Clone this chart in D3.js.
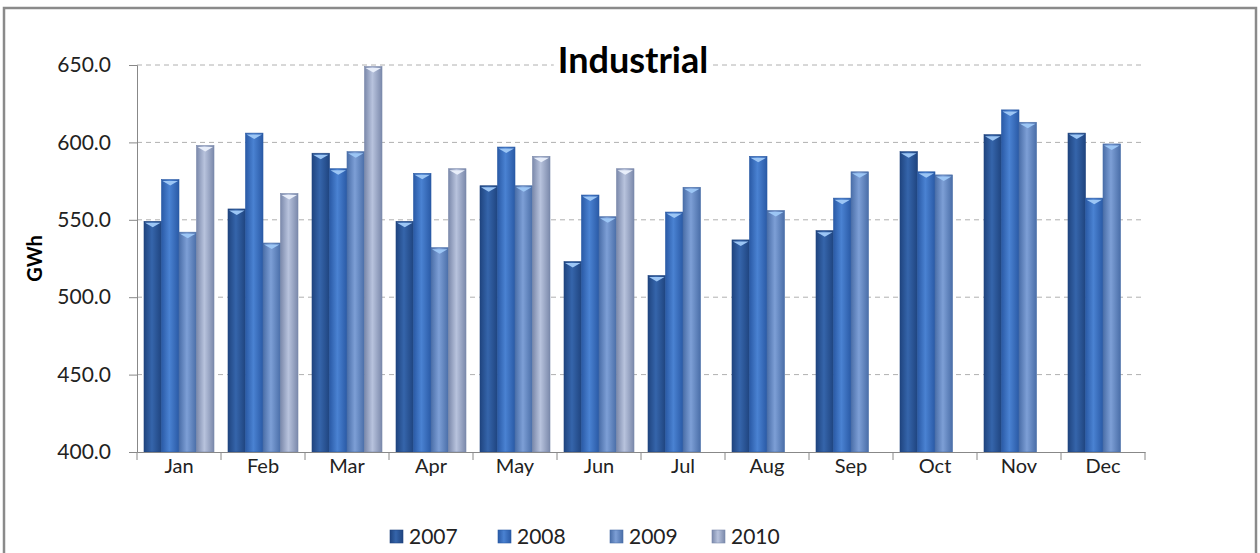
<!DOCTYPE html>
<html>
<head>
<meta charset="utf-8">
<script src="https://cdn.jsdelivr.net/npm/d3@7"></script>
<style>
  body { margin: 0; background: #fff; }
  svg { display: block; }
  svg text { font-family: Lato, "Open Sans", sans-serif; }
</style>
</head>
<body>
<svg id="chart"></svg>
<script>
const months = ["Jan", "Feb", "Mar", "Apr", "May", "Jun", "Jul", "Aug", "Sep", "Oct", "Nov", "Dec"];
const years = ["2007", "2008", "2009", "2010"];
const v2007 = [549, 557, 593, 549, 572, 523, 514, 537, 543, 594, 605, 606];
const v2008 = [576, 606, 583, 580, 597, 566, 555, 591, 564, 581, 621, 564];
const v2009 = [542, 535, 594, 532, 572, 552, 571, 556, 581, 579, 613, 599];
const v2010 = [598, 567, 649, 583, 591, 583, null, null, null, null, null, null];
const yTicks = [400, 450, 500, 550, 600, 650];

const series = [v2007, v2008, v2009, v2010];
const colors = [
  { dark: "#1f447f", mid: "#3565ab" },
  { dark: "#2a5aa6", mid: "#4a82d2" },
  { dark: "#4a6ea8", mid: "#7d9fd6" },
  { dark: "#7b89ab", mid: "#b8c3dd" }
];

const W = 1260, H = 553;
const M = { left: 137, right: 115, top: 65, bottom: 101 };

const svg = d3.select("#chart").attr("width", W).attr("height", H);

// outer frame
svg.append("rect")
  .attr("x", 4).attr("y", 8).attr("width", 1252).attr("height", 560)
  .attr("fill", "#fff").attr("stroke", "#8a8a8a").attr("stroke-width", 2.5);

const defs = svg.append("defs");
colors.forEach((c, i) => {
  const g = defs.append("linearGradient").attr("id", "grad" + i)
    .attr("x1", "0%").attr("x2", "100%").attr("y1", "0%").attr("y2", "0%");
  g.append("stop").attr("offset", "0%").attr("stop-color", c.dark);
  g.append("stop").attr("offset", "45%").attr("stop-color", c.mid);
  g.append("stop").attr("offset", "100%").attr("stop-color", c.dark);
});

/* Scales */
const x = d3.scaleBand().domain(months).range([M.left, W - M.right]);
const inner = d3.scaleBand().domain(years)
  .range([0, x.bandwidth()]).paddingOuter(0.4).paddingInner(0);
const y = d3.scaleLinear().domain([400, 650]).range([H - M.bottom, M.top]);

/* Grid */
svg.append("g").selectAll("line")
  .data(yTicks.slice(1)).enter()
  .append("line")
  .attr("x1", M.left).attr("x2", W - M.right)
  .attr("y1", d => y(d)).attr("y2", d => y(d))
  .attr("stroke", "#b0b0b0").attr("stroke-width", 1)
  .attr("stroke-dasharray", "5,4");

/* Bars */
const groups = svg.append("g").selectAll("g")
  .data(months).enter()
  .append("g")
  .attr("transform", d => `translate(${x(d)},0)`);

groups.each(function(m, mi) {
  const g = d3.select(this);
  series.forEach((s, si) => {
    const v = s[mi];
    if (v == null) return;
    const bx = inner(years[si]);
    const bw = inner.bandwidth();
    g.append("rect")
      .attr("x", bx).attr("y", y(v))
      .attr("width", bw).attr("height", y(400) - y(v))
      .attr("fill", `url(#grad${si})`)
      .attr("stroke", colors[si].dark).attr("stroke-width", 0.6);
    // bevel chevron on top
    g.append("path")
      .attr("d", `M${bx + 1},${y(v) + 1.5} L${bx + bw - 1},${y(v) + 1.5} L${bx + bw / 2},${y(v) + 6} Z`)
      .attr("fill", si === 3 ? "#e8eefa" : "#9cc6f5");
  });
});

/* Axes */
const xAxis = d3.axisBottom(x).tickSize(0).tickPadding(7);
const xg = svg.append("g")
  .attr("transform", `translate(0,${y(400)})`)
  .call(xAxis);
xg.attr("font-family", null);
xg.select(".domain").attr("stroke", "#888");
xg.selectAll("text").attr("font-size", 20).attr("fill", "#222");
// category boundary ticks
xg.append("g").selectAll("line")
  .data(d3.range(months.length + 1)).enter()
  .append("line")
  .attr("x1", i => M.left + i * x.step()).attr("x2", i => M.left + i * x.step())
  .attr("y1", 0).attr("y2", 8)
  .attr("stroke", "#888");

const yAxis = d3.axisLeft(y).tickValues(yTicks).tickFormat(d3.format(".1f"))
  .tickSize(8).tickPadding(18);
const yg = svg.append("g")
  .attr("transform", `translate(${M.left},0)`)
  .call(yAxis);
yg.attr("font-family", null);
yg.select(".domain").attr("stroke", "#888");
yg.selectAll(".tick line").attr("stroke", "#888");
yg.selectAll("text").attr("font-size", 21).attr("fill", "#222");

/* Y label */
svg.append("text")
  .attr("transform", `translate(42,${(y(400) + y(650)) / 2}) rotate(-90)`)
  .attr("text-anchor", "middle")
  .attr("font-size", 20).attr("font-weight", "bold")
  .text("GWh");

/* Title */
const titleBg = svg.append("rect").attr("fill", "#fff");
const title = svg.append("text")
  .attr("x", 633).attr("y", 73)
  .attr("text-anchor", "middle")
  .attr("font-size", 36).attr("font-weight", "bold")
  .text("Industrial");
const tb = title.node().getBBox();
titleBg
  .attr("x", tb.x - 4).attr("y", tb.y + 6).attr("width", tb.width + 8).attr("height", tb.height - 6);

/* Legend */
const legendX = [390, 498, 610, 712];
const legend = svg.append("g").selectAll("g")
  .data(years).enter()
  .append("g")
  .attr("transform", (d, i) => `translate(${legendX[i]},537)`);
legend.append("rect")
  .attr("x", 0).attr("y", -7).attr("width", 13).attr("height", 13)
  .attr("fill", (d, i) => `url(#grad${i})`)
  .attr("stroke", (d, i) => colors[i].dark).attr("stroke-width", 0.6);
legend.append("text")
  .attr("x", 19).attr("y", 7)
  .attr("font-size", 21).attr("fill", "#222")
  .text(d => d);
</script>
</body>
</html>
